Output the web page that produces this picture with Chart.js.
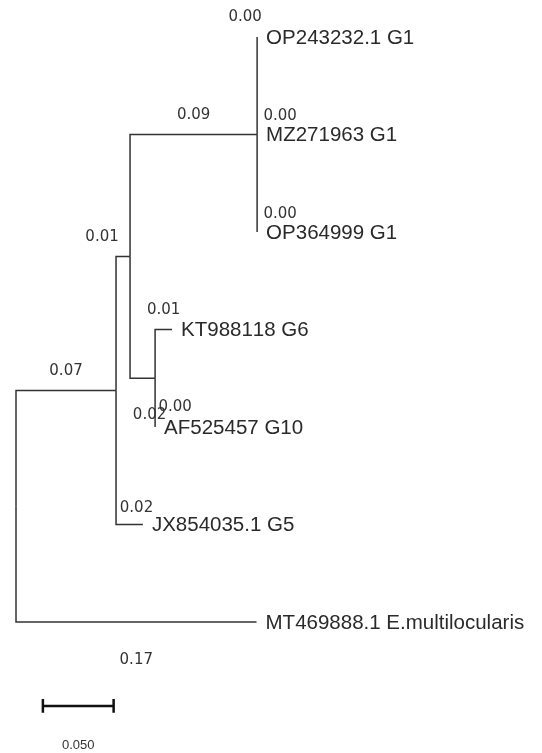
<!DOCTYPE html>
<html>
<head>
<meta charset="utf-8">
<script src="https://cdn.jsdelivr.net/npm/chart.js@4.4.0/dist/chart.umd.min.js"></script>
<style>
  body { margin: 0; background: #fff; }
  #wrap { width: 542px; height: 753px; }
</style>
</head>
<body>
<div id="wrap"><canvas id="tree"></canvas></div>
<script>
// tips, top to bottom
const taxa = ['OP243232.1 G1', 'MZ271963 G1', 'OP364999 G1', 'KT988118 G6', 'AF525457 G10', 'JX854035.1 G5', 'MT469888.1 E.multilocularis'];
// nodes 0-6 = tips, 7 = G1 clade, 8 = G6/G10, 9 = G1 + G6/G10, 10 = ingroup, 11 = root
const parentOf = [7, 7, 7, 8, 8, 10, 11, 9, 9, 10, 11, null];
const branchLength = [0, 0, 0, 0.012, 0, 0.019, 0.170, 0.0898, 0.0177, 0.0099, 0.0707, 0];
const branchLabel = ['0.00', '0.00', '0.00', '0.01', '0.00', '0.02', '0.17', '0.09', '0.02', '0.01', '0.07', null];
const scaleBarLength = 0.05;
const scaleBarLabel = '0.050';

// layout bits (not data)
const barAt = { x: 0.019, y: 6.86 };
const lineColor = '#333';
const textColor = '#2a2a2a';
// pixel nudges for branch length labels, default = centred 19px above branch
const nudge = {
  0: { dx: -12, dy: -1 },
  1: { dx: 23, dy: 1 },
  2: { dx: 23, dy: 1 },
  4: { dx: 20, dy: -1 },
  5: { dx: 7, dy: 3 },
  6: { dx: 0, dy: 57 },
  8: { dx: 7, dy: 56 },
  9: { dx: -21, dy: 0 }
};

const root = parentOf.indexOf(null);
const children = parentOf.map(() => []);
parentOf.forEach((p, i) => { if (p !== null) children[p].push(i); });

const nodeX = [];
const nodeY = [];
function placeX(n, x) {
  nodeX[n] = x;
  children[n].forEach(c => placeX(c, x + branchLength[c]));
}
function placeY(n) {
  if (children[n].length === 0) {
    nodeY[n] = n;
    return nodeY[n];
  }
  const ys = children[n].map(placeY);
  nodeY[n] = (Math.min(...ys) + Math.max(...ys)) / 2;
  return nodeY[n];
}
placeX(root, 0);
placeY(root);

const lineDs = pts => ({
  data: pts,
  showLine: true,
  borderColor: lineColor,
  borderWidth: 1.5,
  pointRadius: 0,
  fill: false,
  clip: false
});

const datasets = [];
parentOf.forEach((p, i) => {
  if (p === null) return;
  datasets.push(lineDs([
    { x: nodeX[p], y: nodeY[p] },
    { x: nodeX[p], y: nodeY[i] },
    { x: nodeX[i], y: nodeY[i] }
  ]));
});

// scale bar
const bar = lineDs([{ x: barAt.x, y: barAt.y }, { x: barAt.x + scaleBarLength, y: barAt.y }]);
bar.borderWidth = 2.5;
bar.borderColor = '#111';
datasets.push(bar);
[barAt.x, barAt.x + scaleBarLength].forEach(bx => {
  const cap = lineDs([{ x: bx, y: barAt.y - 0.07 }, { x: bx, y: barAt.y + 0.07 }]);
  cap.borderWidth = 2.5;
  cap.borderColor = '#111';
  datasets.push(cap);
});

const treeText = {
  id: 'treeText',
  afterDatasetsDraw(chart) {
    const ctx = chart.ctx;
    const xs = chart.scales.x, ys = chart.scales.y;
    ctx.save();
    ctx.textBaseline = 'middle';
    ctx.fontKerning = 'none';

    // tip names
    ctx.fillStyle = textColor;
    ctx.font = '20.5px "Liberation Sans", Arial, sans-serif';
    ctx.textAlign = 'left';
    taxa.forEach((name, i) => {
      ctx.fillText(name, xs.getPixelForValue(nodeX[i]) + 9, ys.getPixelForValue(nodeY[i]) + 1);
    });

    // branch lengths
    ctx.fillStyle = '#333';
    ctx.font = '15px "DejaVu Sans", sans-serif';
    ctx.textAlign = 'center';
    branchLabel.forEach((lab, i) => {
      if (lab === null) return;
      const p = parentOf[i];
      const mid = (xs.getPixelForValue(nodeX[p]) + xs.getPixelForValue(nodeX[i])) / 2;
      const n = nudge[i] || { dx: 0, dy: 0 };
      ctx.fillText(lab, mid + n.dx, ys.getPixelForValue(nodeY[i]) - 19 + n.dy);
    });

    // scale bar label
    ctx.font = '13px "Liberation Sans", Arial, sans-serif';
    ctx.fillText(scaleBarLabel, xs.getPixelForValue(barAt.x + scaleBarLength / 2), ys.getPixelForValue(barAt.y) + 40);
    ctx.restore();
  }
};

new Chart(document.getElementById('tree'), {
  type: 'scatter',
  data: { datasets },
  options: {
    responsive: true,
    maintainAspectRatio: false,
    animation: false,
    layout: { padding: { left: 16, right: 6, top: 17, bottom: 5 } },
    scales: {
      x: { type: 'linear', display: false, min: 0, max: 0.3675 },
      y: { type: 'linear', display: false, reverse: true, min: -0.205, max: 7.292 }
    },
    plugins: {
      legend: { display: false },
      tooltip: { enabled: false }
    }
  },
  plugins: [treeText]
});
</script>
</body>
</html>
